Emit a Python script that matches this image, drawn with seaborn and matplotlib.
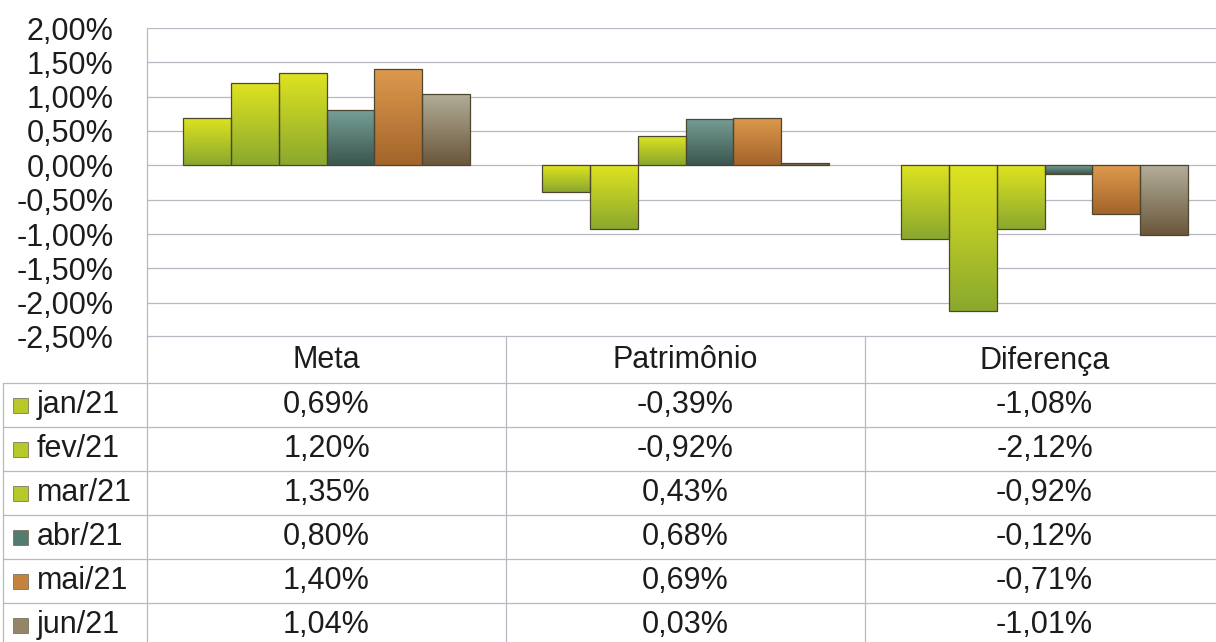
import numpy as np
import pandas as pd
import matplotlib
matplotlib.use("Agg")
import matplotlib.pyplot as plt
import seaborn as sns
from matplotlib.colors import LinearSegmentedColormap, to_hex
from matplotlib.patches import Rectangle

# ---------------- data ----------------
categorias = ["Meta", "Patrimônio", "Diferença"]
meses = ["jan/21", "fev/21", "mar/21", "abr/21", "mai/21", "jun/21"]
meta = [0.69, 1.20, 1.35, 0.80, 1.40, 1.04]
patrimonio = [-0.39, -0.92, 0.43, 0.68, 0.69, 0.03]
diferenca = [-1.08, -2.12, -0.92, -0.12, -0.71, -1.01]
yticks = [2.0, 1.5, 1.0, 0.5, 0.0, -0.5, -1.0, -1.5, -2.0, -2.5]

cor_media = ["#b8c82a", "#b7c82b", "#b6c82c", "#557a70", "#c4823c", "#948468"]
cor_topo = ["#dfe420", "#dfe420", "#dfe420", "#779f95", "#de9a4e", "#b3ae9a"]
cor_base = ["#8aa82e", "#8aa82e", "#8aa82e", "#3a564f", "#a2642a", "#6a573a"]

valores = {"Meta": meta, "Patrimônio": patrimonio, "Diferença": diferenca}
df = pd.DataFrame(
    [(c, m, valores[c][i]) for c in categorias for i, m in enumerate(meses)],
    columns=["categoria", "mes", "valor"],
)

# ---------------- style ----------------
sns.set_theme(style="white")
plt.rcParams["font.family"] = ["Liberation Sans", "DejaVu Sans"]
texto = "#1c1c1c"
grade = "#b8b8c2"
fs = 22

W, H = 1216, 642
fig = plt.figure(figsize=(W / 100, H / 100), dpi=100)
fig.patch.set_facecolor("white")

left_px, top_px, bot_px, cat_px = 147, 28, 337, 359
ax = fig.add_axes([left_px / W, (H - bot_px) / H, 3 * cat_px / W, (bot_px - top_px) / H])

sns.barplot(
    data=df, x="categoria", y="valor", hue="mes",
    order=categorias, hue_order=meses,
    palette=cor_media, saturation=1, width=0.8,
    edgecolor="#4d4630", linewidth=0.9, legend=False, ax=ax,
)

ax.set_xlim(-0.5, 2.5)
ax.set_ylim(-2.5, 2.0)
ax.set_yticks(yticks)
ax.set_yticklabels([f"{t:.2f}%".replace(".", ",") for t in yticks],
                   fontsize=fs, color=texto)
ax.set_xticks([])
ax.set_xlabel("")
ax.set_ylabel("")
ax.tick_params(axis="y", length=0, pad=24)
ax.grid(axis="y", color=grade, lw=0.9)
ax.set_axisbelow(True)
for s in ["top", "right", "bottom"]:
    ax.spines[s].set_visible(False)
ax.spines["left"].set_color(grade)
ax.spines["left"].set_linewidth(0.9)

# gradient fill of every seaborn bar
mapa = {to_hex(c): i for i, c in enumerate(cor_media)}
grad = np.linspace(0, 1, 256).reshape(-1, 1)
for p in list(ax.patches):
    idx = mapa.get(to_hex(p.get_facecolor()[:3]))
    if idx is None:
        continue
    x0, y0 = p.get_x(), p.get_y()
    w, h = p.get_width(), p.get_height()
    ytop, ybot = max(y0, y0 + h), min(y0, y0 + h)
    cmap = LinearSegmentedColormap.from_list("g", [cor_topo[idx], cor_base[idx]])
    im = ax.imshow(grad, cmap=cmap, aspect="auto", origin="upper",
                   extent=(x0, x0 + w, ybot, ytop), zorder=p.get_zorder() - 0.01,
                   interpolation="bilinear")
    im.set_clip_path(p)
    p.set_facecolor("none")
ax.set_xlim(-0.5, 2.5)
ax.set_ylim(-2.5, 2.0)

# ---------------- data table ----------------
tab_top = 336
tax = fig.add_axes([left_px / W, 0, 3 * cat_px / W, (H - tab_top) / H])
tax.set_xlim(-0.5, 2.5)
tax.set_ylim(H - tab_top, 0)
tax.axis("off")


def px2x(px):
    return -0.5 + (px - left_px) / cat_px


header_h, row_h = 47, 44
linhas = [header_h + row_h * i for i in range(7)]
x_leg = px2x(3)
for y in linhas:
    tax.plot([x_leg, 2.5], [y, y], color=grade, lw=0.9, clip_on=False)
tax.plot([-0.5, 2.5], [0, 0], color=grade, lw=0.9, clip_on=False)
for xv in [-0.5, 0.5, 1.5]:
    tax.plot([xv, xv], [0, H], color=grade, lw=0.9, clip_on=False)
tax.plot([x_leg, x_leg], [header_h, H], color=grade, lw=0.9, clip_on=False)

for j, c in enumerate(categorias):
    tax.text(j, header_h / 2 + 1, c, ha="center", va="center", fontsize=fs, color=texto)
    for i, v in enumerate(valores[c]):
        tax.text(j, header_h + row_h * i + row_h / 2,
                 f"{v:.2f}%".replace(".", ","),
                 ha="center", va="center", fontsize=fs, color=texto)

sq = 15
for i, m in enumerate(meses):
    yc = header_h + row_h * i + row_h / 2
    tax.add_patch(Rectangle((px2x(13), yc - sq / 2), sq / cat_px, sq,
                            facecolor=cor_media[i], edgecolor="#6a6450", lw=0.5,
                            clip_on=False))
    tax.text(px2x(37), yc, m, ha="left", va="center", fontsize=fs, color=texto,
             clip_on=False)

fig.savefig("out.png", dpi=100, facecolor="white")
